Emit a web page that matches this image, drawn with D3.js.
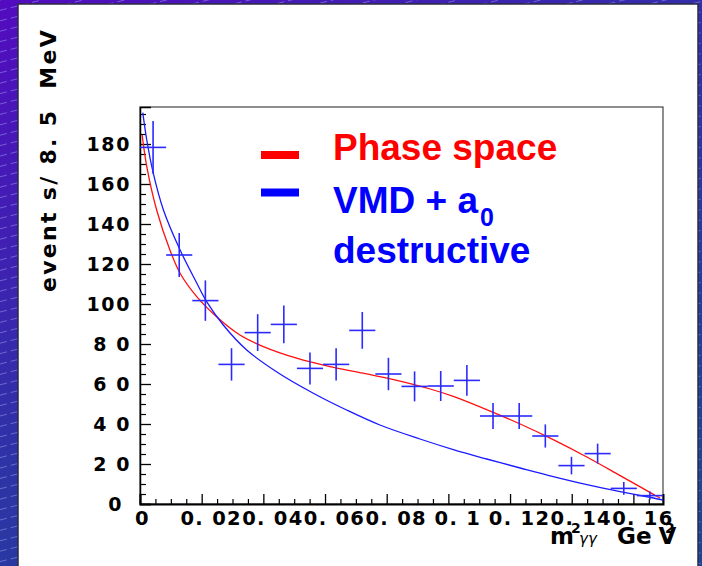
<!DOCTYPE html>
<html>
<head>
<meta charset="utf-8">
<script src="https://cdn.jsdelivr.net/npm/d3@7"></script>
<style>
  html, body { margin: 0; padding: 0; background: #2a3a9e; }
  svg { display: block; }
  text { white-space: pre; }
</style>
</head>
<body>
<div id="chart"></div>
<script>
// ---------- data ----------
const binWidth = 0.00848;
const binCenters = [0.00424, 0.01272, 0.0212, 0.02968, 0.03816, 0.04664, 0.05512, 0.0636, 0.07208, 0.08056,
                    0.08904, 0.09752, 0.106, 0.11448, 0.12296, 0.13144, 0.13992, 0.1484, 0.15688, 0.16536];
const counts = [178.3, 124.5, 101.7, 69.8, 85.7, 89.8, 67.8, 69.8, 86.8, 65.0,
                58.8, 59.0, 61.8, 44.0, 44.0, 34.0, 19.2, 25.2, 7.8, 4.2];
const countErrors = [13.2, 11.0, 10.1, 8.1, 9.2, 9.4, 8.0, 8.1, 9.2, 8.1,
                     7.5, 7.5, 7.7, 6.5, 6.5, 5.8, 4.4, 5.0, 3.2, 2.1];

const phaseSpaceX = [0.0007, 0.0022, 0.0054, 0.0097, 0.0130, 0.0184, 0.0253, 0.0324, 0.0400, 0.0508, 0.0616,
                     0.0724, 0.0833, 0.0941, 0.1016, 0.1124, 0.1233, 0.1340, 0.1449, 0.1557, 0.1665, 0.1686];
const phaseSpaceY = [184.5, 168.7, 147.0, 127.0, 115.4, 103.7, 93.0, 84.5, 78.7, 72.9, 68.7,
                     65.4, 61.8, 57.5, 53.8, 47.2, 40.0, 32.2, 23.5, 14.2, 4.8, 3.0];

const vmdX = [0.0009, 0.0022, 0.0043, 0.0076, 0.0130, 0.0184, 0.0216, 0.0270, 0.0346, 0.0454, 0.0562,
              0.0670, 0.0778, 0.0908, 0.1016, 0.1124, 0.1233, 0.1340, 0.1449, 0.1557, 0.1665, 0.1696];
const vmdY = [195.7, 182.0, 165.4, 147.0, 127.0, 110.5, 101.2, 89.5, 77.0, 65.0, 55.4,
              47.0, 39.5, 32.5, 27.2, 22.5, 18.0, 13.7, 9.7, 6.2, 3.0, 2.0];

const xTickValues = [0, 0.02, 0.04, 0.06, 0.08, 0.1, 0.12, 0.14, 0.16];
const xTickLabels = ["0", "0. 02", "0. 04", "0. 06", "0. 08", "0. 1", "0. 12", "0. 14", "0. 16"];
const yTickValues = [0, 20, 40, 60, 80, 100, 120, 140, 160, 180];
const yTickLabels = ["0", "2 0", "4 0", "6 0", "8 0", "100", "120", "140", "160", "180"];

const legendLabels = ["Phase space", "VMD + a", "destructive"];
const yTitle = "event s/ 8. 5  MeV";

// ---------- drawing ----------
const W = 702, H = 566;
const svg = d3.select("#chart").append("svg").attr("width", W).attr("height", H);

const defs = svg.append("defs");
const grad = defs.append("linearGradient").attr("id", "bg")
  .attr("x1", "0").attr("y1", "0").attr("x2", "0.7").attr("y2", "1");
grad.append("stop").attr("offset", "0").attr("stop-color", "#530bbf");
grad.append("stop").attr("offset", "0.55").attr("stop-color", "#2e33a6");
grad.append("stop").attr("offset", "1").attr("stop-color", "#1d4596");

svg.append("rect").attr("width", W).attr("height", H).attr("fill", "url(#bg)");

// decorative dashed diagonal lines
const deco = svg.append("g").attr("stroke", "rgba(175,180,255,0.45)").attr("stroke-width", 1)
  .attr("stroke-dasharray", "7,4");
for (let y0 = 0; y0 < H + 200; y0 += 10.4) {
  deco.append("line").attr("x1", 0).attr("y1", y0).attr("x2", W).attr("y2", y0 - W * 0.25);
}

// white panel
svg.append("rect").attr("x", 18).attr("y", 4).attr("width", 680).attr("height", 580)
  .attr("fill", "#ffffff").attr("stroke", "#2b2b40").attr("stroke-width", 1.5);

const x = d3.scaleLinear().domain([0, 0.1696]).range([140, 663]);
const y = d3.scaleLinear().domain([0, 198.5]).range([504, 107]);

// frame
svg.append("rect").attr("x", 140).attr("y", 107).attr("width", 523).attr("height", 397)
  .attr("fill", "none").attr("stroke", "#444").attr("stroke-width", 1.2);

const fontBold = "'DejaVu Sans', sans-serif";

// x axis minor
const xMinor = d3.range(0, 0.1696, 0.005).filter(v => Math.abs(v / 0.02 - Math.round(v / 0.02)) > 1e-6);
svg.append("g").attr("transform", "translate(0,504)")
  .call(d3.axisBottom(x).tickValues(xMinor).tickSize(-5).tickFormat(""))
  .call(g => g.select(".domain").remove())
  .selectAll("line").attr("stroke", "#000").attr("stroke-width", 1.2);

const gx = svg.append("g").attr("transform", "translate(0,504)")
  .call(d3.axisBottom(x).tickValues(xTickValues).tickSize(-10).tickPadding(7.5)
    .tickFormat((d, i) => xTickLabels[i]));
gx.select(".domain").attr("stroke", "#000").attr("stroke-width", 2);
gx.selectAll("line").attr("stroke", "#000").attr("stroke-width", 1.3);
gx.selectAll("text").attr("font-family", fontBold).attr("font-weight", "bold")
  .attr("font-size", 19.5).attr("fill", "#000").attr("letter-spacing", 1.3)
  .attr("dx", (d, i) => i === 0 ? 2 : 9);

// y axis minor
const yMinor = d3.range(0, 198.5, 5).filter(v => v % 20 !== 0);
svg.append("g").attr("transform", "translate(140,0)")
  .call(d3.axisLeft(y).tickValues(yMinor).tickSize(-6).tickFormat(""))
  .call(g => g.select(".domain").remove())
  .selectAll("line").attr("stroke", "#000").attr("stroke-width", 1.2);

const gy = svg.append("g").attr("transform", "translate(140,0)")
  .call(d3.axisLeft(y).tickValues(yTickValues).tickSize(-11).tickPadding(9)
    .tickFormat((d, i) => yTickLabels[i]));
gy.select(".domain").attr("stroke", "#000").attr("stroke-width", 1.5);
gy.selectAll("line").attr("stroke", "#000").attr("stroke-width", 1.3);
gy.selectAll("text").attr("font-family", fontBold).attr("font-weight", "bold")
  .attr("font-size", 19).attr("fill", "#000").attr("letter-spacing", 1.6)
  .attr("dx", (d, i) => i === 0 ? -8 : 0);

// y title
svg.append("text").attr("transform", "translate(56,28) rotate(-90)")
  .attr("text-anchor", "end").attr("font-family", fontBold).attr("font-weight", "bold")
  .attr("font-size", 22).attr("letter-spacing", 2.3).attr("fill", "#000").text(yTitle);

// x title
const xt = svg.append("g").attr("font-family", fontBold).attr("fill", "#000");
xt.append("text").attr("x", 550).attr("y", 544).attr("font-weight", "bold").attr("font-size", 23).text("m");
xt.append("text").attr("x", 571).attr("y", 533).attr("font-weight", "bold").attr("font-size", 14).text("2");
xt.append("text").attr("x", 579).attr("y", 544).attr("font-style", "italic").attr("font-size", 15).text("γγ");
const gev = xt.append("text").attr("x", 617).attr("y", 544).attr("font-weight", "bold").attr("font-size", 23);
gev.append("tspan").text("Ge");
gev.append("tspan").attr("dx", 7).text("V");
xt.append("text").attr("x", 665).attr("y", 533).attr("font-weight", "bold").attr("font-size", 14).text("2");

// clip for curves
defs.append("clipPath").attr("id", "plotclip").append("rect")
  .attr("x", 140).attr("y", 107).attr("width", 523).attr("height", 397);

const line = d3.line().x(d => x(d[0])).y(d => y(d[1])).curve(d3.curveCatmullRom.alpha(0.5));
const plot = svg.append("g").attr("clip-path", "url(#plotclip)");

plot.append("path").datum(phaseSpaceX.map((v, i) => [v, phaseSpaceY[i]]))
  .attr("d", line).attr("fill", "none").attr("stroke", "#ff1010").attr("stroke-width", 1.3);
plot.append("path").datum(vmdX.map((v, i) => [v, vmdY[i]]))
  .attr("d", line).attr("fill", "none").attr("stroke", "#1a1aff").attr("stroke-width", 1.3);

// data crosses
const pts = plot.append("g").attr("stroke", "#2a2aff").attr("stroke-width", 1.6);
binCenters.forEach((c, i) => {
  pts.append("line").attr("x1", x(c - binWidth / 2)).attr("x2", x(c + binWidth / 2))
    .attr("y1", y(counts[i])).attr("y2", y(counts[i]));
  pts.append("line").attr("x1", x(c)).attr("x2", x(c))
    .attr("y1", y(counts[i] - countErrors[i])).attr("y2", y(counts[i] + countErrors[i]));
});

// legend
const lg = svg.append("g").attr("font-family", "'Liberation Sans', Arial, sans-serif").attr("font-weight", "bold");
lg.append("rect").attr("x", 261).attr("y", 151).attr("width", 38).attr("height", 8).attr("fill", "#ff0000");
lg.append("rect").attr("x", 261).attr("y", 188.5).attr("width", 38).attr("height", 8).attr("fill", "#0000ff");
lg.append("text").attr("x", 333).attr("y", 160).attr("font-size", 37).attr("fill", "#ff0000").text(legendLabels[0]);
const vmd = lg.append("text").attr("x", 333).attr("y", 212.5).attr("font-size", 37).attr("fill", "#0000ff");
vmd.append("tspan").text(legendLabels[1]);
lg.append("text").attr("x", 480).attr("y", 226).attr("font-size", 25).attr("fill", "#0000ff").text("0");
lg.append("text").attr("x", 333).attr("y", 263).attr("font-size", 37).attr("fill", "#0000ff").text(legendLabels[2]);
</script>
</body>
</html>
